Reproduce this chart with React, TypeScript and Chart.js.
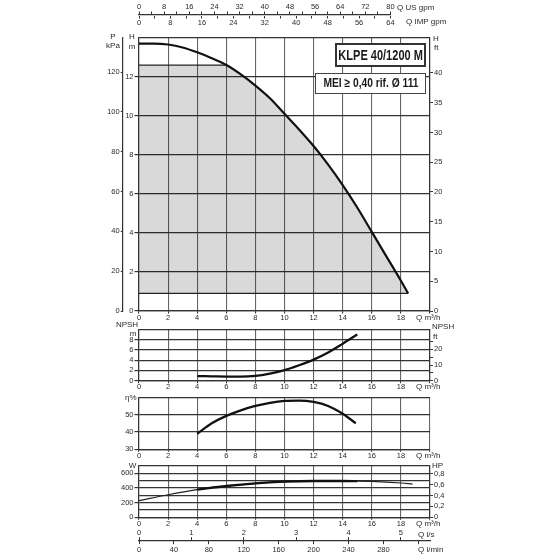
import React, { useEffect, useRef } from "react";
import { Chart, registerables } from "chart.js";
Chart.register(...registerables);

// ---------- data ----------
const Q_MAX = 20;
const Q_TICK_STEP = 2;
const KPA_PER_M = 9.80665;
const FT_PER_M = 3.28084;
const W_PER_HP = 745.7;

// Head curve H (m) vs Q (m³/h)
const Q_H = [0, 1, 2, 3, 4, 5, 6, 7, 8, 9, 10, 11, 12, 13, 14, 15, 16, 17, 18, 18.5];
const H_M = [13.7, 13.7, 13.65, 13.5, 13.25, 12.95, 12.6, 12.12, 11.55, 10.9, 10.1, 9.3, 8.45, 7.5, 6.45, 5.3, 4.05, 2.8, 1.55, 0.9];
const SHADE_TOP = 12.6;
const SHADE_BOTTOM = 0.9;

// Operating range (thick part of curves)
const OP_MIN = 4;
const OP_MAX = 15;

// NPSH (m)
const Q_NPSH = [4, 5, 6, 7, 8, 9, 10, 11, 12, 13, 14, 15];
const NPSH_M = [0.9, 0.85, 0.8, 0.8, 0.95, 1.4, 2.05, 3.0, 4.1, 5.5, 7.2, 9.0];

// Efficiency (%)
const Q_ETA = [4, 5, 6, 7, 8, 9, 10, 11, 12, 13, 14, 14.9];
const ETA = [39, 45, 49.3, 52.5, 55, 56.8, 57.9, 58.1, 57.3, 55, 50.5, 45];

// Power (W)
const Q_W = [0, 2, 4, 6, 8, 10, 12, 14, 15, 16, 18, 18.8];
const POWER_W = [226, 308, 377, 427, 464, 486, 495, 495, 494, 490, 468, 454];

// Secondary flow axes
const US_GPM_MAX = 80;
const US_GPM_LABEL_STEP = 8;
const IMP_GPM_MAX = 64;
const IMP_GPM_LABEL_STEP = 8;
const LS_MAX = Q_MAX / 3.6;
const LMIN_MAX = (Q_MAX * 1000) / 60;

// ---------- style ----------
const FONT_FAMILY = "'Liberation Sans Narrow', 'Arial Narrow', 'Liberation Sans', Arial, sans-serif";
const TICK_FONT = { family: FONT_FAMILY, size: 7.5, lineHeight: 1.1 };
const TEXT_COLOR = "#2a2a2a";
const GRID_V = "#666";
const GRID_H = "#333";
const AXIS_COLOR = "#333";
const CLEAR = "rgba(0,0,0,0)";

const pts = (xs: number[], ys: number[]) => xs.map((x, i) => ({ x, y: ys[i] }));
const within = (xs: number[], ys: number[], a: number, b: number) =>
  pts(xs, ys).filter((p) => p.x >= a && p.x <= b);

function shadeTopCrossing() {
  for (let i = 0; i < Q_H.length - 1; i++) {
    if (H_M[i] >= SHADE_TOP && H_M[i + 1] < SHADE_TOP) {
      const t = (H_M[i] - SHADE_TOP) / (H_M[i] - H_M[i + 1]);
      return Q_H[i] + t * (Q_H[i + 1] - Q_H[i]);
    }
  }
  return 0;
}

function shadePoints() {
  const qi = shadeTopCrossing();
  const out: { x: number; y: number }[] = [
    { x: 0, y: SHADE_TOP },
    { x: qi, y: SHADE_TOP },
  ];
  Q_H.forEach((q, i) => {
    if (H_M[i] < SHADE_TOP) out.push({ x: q, y: H_M[i] });
  });
  return out;
}

const lineDs = (data: any[], width: number, color = "#111", extra: any = {}) => ({
  data,
  borderColor: color,
  borderWidth: width,
  pointRadius: 0,
  fill: false,
  cubicInterpolationMode: "monotone",
  ...extra,
});

const qAxis = (h: number) => ({
  type: "linear",
  position: "bottom",
  min: 0,
  max: Q_MAX,
  ticks: {
    stepSize: Q_TICK_STEP,
    font: TICK_FONT,
    color: TEXT_COLOR,
    padding: 0,
    maxRotation: 0,
    autoSkip: false,
    callback: (v: number) => (v >= Q_MAX ? "" : String(v)),
  },
  grid: { color: GRID_V, lineWidth: 1.1, tickLength: 2.5, tickColor: AXIS_COLOR },
  border: { color: AXIS_COLOR, width: 1.2 },
  afterFit: (s: any) => {
    s.height = h;
  },
});

const leftAxis = (min: number, max: number, step: number, width: number, labelEvery: number) => ({
  type: "linear",
  position: "left",
  weight: 0,
  min,
  max,
  ticks: {
    stepSize: step,
    autoSkip: false,
    font: TICK_FONT,
    color: TEXT_COLOR,
    padding: 1,
    callback: (v: number) => (v >= max || (v - min) % labelEvery !== 0 ? "" : String(v)),
  },
  grid: {
    color: GRID_H,
    lineWidth: 1.2,
    tickLength: 4.5,
    tickColor: (c: any) =>
      c.tick && (c.tick.value >= max || (c.tick.value - min) % labelEvery !== 0) ? CLEAR : AXIS_COLOR,
  },
  border: { color: AXIS_COLOR, width: 1.2 },
  afterFit: (s: any) => {
    s.width = width;
  },
});

const rightAxis = (max: number, step: number, limit: number, labelFn: (v: number) => string) => ({
  type: "linear",
  position: "right",
  min: 0,
  max,
  ticks: {
    stepSize: step,
    includeBounds: false,
    autoSkip: false,
    font: TICK_FONT,
    color: TEXT_COLOR,
    padding: 1,
    callback: labelFn,
  },
  afterBuildTicks: (s: any) => {
    s.ticks = s.ticks.filter((t: any) => t.value <= limit + 1e-9);
  },
  grid: { drawOnChartArea: false, tickLength: 3, color: AXIS_COLOR },
  border: { color: AXIS_COLOR, width: 1.2 },
  afterFit: (s: any) => {
    s.width = 30;
  },
});

const baseOptions = (padding: any, scales: any) => ({
  responsive: false,
  animation: false,
  events: [],
  layout: { padding },
  plugins: { legend: { display: false }, tooltip: { enabled: false } },
  scales,
});

// ---------- chart configs ----------
const flowTicks = (step: number, labelStep: number) => ({
  stepSize: step,
  includeBounds: false,
  font: TICK_FONT,
  color: TEXT_COLOR,
  padding: 0,
  maxRotation: 0,
  autoSkip: false,
  callback: (v: number) => (v % labelStep === 0 ? String(v) : ""),
});

const topAxesConfig = () => ({
  type: "line",
  data: { datasets: [{ data: [], xAxisID: "us", yAxisID: "y" }] },
  options: baseOptions({ left: 139, right: 169.5, top: 0, bottom: 0 }, {
    us: {
      type: "linear",
      axis: "x",
      position: "top",
      min: 0,
      max: US_GPM_MAX,
      ticks: flowTicks(US_GPM_LABEL_STEP / 2, US_GPM_LABEL_STEP),
      grid: { drawOnChartArea: false, tickLength: 3, color: AXIS_COLOR },
      border: { color: AXIS_COLOR, width: 1.2 },
      afterFit: (s: any) => {
        s.height = 14.5;
      },
    },
    imp: {
      type: "linear",
      axis: "x",
      position: "bottom",
      min: 0,
      max: IMP_GPM_MAX,
      ticks: flowTicks(IMP_GPM_LABEL_STEP / 2, IMP_GPM_LABEL_STEP),
      grid: { drawOnChartArea: false, tickLength: 3, color: AXIS_COLOR },
      border: { display: false },
      afterFit: (s: any) => {
        s.height = 14.5;
      },
    },
    y: { display: false, min: 0, max: 1 },
  }),
});

const mainConfig = () => ({
  type: "line",
  data: {
    datasets: [
      lineDs(pts(Q_H, H_M), 2.2),
      lineDs(
        [
          { x: 0, y: SHADE_TOP },
          { x: shadeTopCrossing(), y: SHADE_TOP },
        ],
        1.2,
        "#222"
      ),
      lineDs(
        [
          { x: 0, y: SHADE_BOTTOM },
          { x: Q_H[Q_H.length - 1], y: SHADE_BOTTOM },
        ],
        1.3,
        "#222"
      ),
      lineDs(shadePoints(), 0, CLEAR, { fill: { value: SHADE_BOTTOM }, backgroundColor: "rgba(0,0,0,0.15)" }),
    ],
  },
  options: baseOptions({ left: 90, right: 100, top: 7.7, bottom: 0 }, {
    x: qAxis(19),
    y: leftAxis(0, 14, 2, 16.3, 2),
    p: {
      type: "linear",
      position: "left",
      weight: 1,
      min: 0,
      max: 14 * KPA_PER_M,
      ticks: { stepSize: 20, includeBounds: false, autoSkip: false, font: TICK_FONT, color: TEXT_COLOR, padding: 1 },
      grid: { drawOnChartArea: false, tickLength: 2, color: AXIS_COLOR },
      border: { color: AXIS_COLOR, width: 1.2 },
      afterFit: (s: any) => {
        s.width = 32.7;
      },
    },
    ft: rightAxis(14 * FT_PER_M, 5, 40, (v: number) => String(v)),
  }),
});

const npshConfig = () => ({
  type: "line",
  data: {
    datasets: [lineDs(pts(Q_NPSH, NPSH_M), 2.3)],
  },
  options: baseOptions({ left: 109, right: 100, top: 9.3, bottom: 0 }, {
    x: qAxis(11.3),
    y: leftAxis(0, 10, 2, 30, 2),
    ft: rightAxis(10 * FT_PER_M, 5, 25, (v: number) => (v % 10 === 0 ? String(v) : "")),
  }),
});

const etaConfig = () => ({
  type: "line",
  data: { datasets: [lineDs(pts(Q_ETA, ETA), 2.3)] },
  options: baseOptions({ left: 109, right: 130, top: 7.3, bottom: 0 }, {
    x: qAxis(12.7),
    y: leftAxis(30, 60, 10, 30, 10),
  }),
});

const powerConfig = () => ({
  type: "line",
  data: {
    datasets: [
      lineDs(within(Q_W, POWER_W, OP_MIN, OP_MAX), 2.3),
      lineDs(pts(Q_W, POWER_W), 1.2, "#222"),
    ],
  },
  options: baseOptions({ left: 109, right: 100, top: 8, bottom: 0 }, {
    x: qAxis(12.7),
    y: leftAxis(0, 700, 100, 30, 200),
    hp: rightAxis(700 / W_PER_HP, 0.2, 0.8, (v: number) =>
      v === 0 ? "0" : v.toFixed(1).replace(".", ",")
    ),
  }),
});

const bottomAxesConfig = () => ({
  type: "line",
  data: { datasets: [{ data: [], xAxisID: "ls", yAxisID: "y" }] },
  options: baseOptions({ left: 139, right: 130, top: 0, bottom: 0 }, {
    ls: {
      type: "linear",
      axis: "x",
      position: "top",
      min: 0,
      max: LS_MAX,
      ticks: flowTicks(1, 1),
      grid: { drawOnChartArea: false, tickLength: 3, color: AXIS_COLOR },
      border: { color: AXIS_COLOR, width: 1.2 },
      afterFit: (s: any) => {
        s.height = 15.2;
      },
    },
    lmin: {
      type: "linear",
      axis: "x",
      position: "bottom",
      min: 0,
      max: LMIN_MAX,
      ticks: {
        ...flowTicks(40, 40),
        padding: 1.5,
        callback: (v: number) => (v >= 300 ? "" : String(v)),
      },
      grid: { drawOnChartArea: false, tickLength: 3, color: AXIS_COLOR },
      border: { display: false },
      afterFit: (s: any) => {
        s.height = 18.8;
      },
    },
    y: { display: false, min: 0, max: 1 },
  }),
});

// ---------- components ----------
function ChartCanvas({ top, height, make }: { top: number; height: number; make: () => any }) {
  const ref = useRef<HTMLCanvasElement>(null);
  useEffect(() => {
    const chart = new Chart(ref.current as HTMLCanvasElement, make());
    return () => chart.destroy();
  }, []);
  return (
    <canvas
      ref={ref}
      width={560}
      height={height}
      style={{ position: "absolute", left: 0, top, width: 560, height }}
    />
  );
}

function Txt({
  x,
  y,
  children,
  align = "left",
  size = 8,
}: {
  x: number;
  y: number;
  children: any;
  align?: "left" | "center" | "right";
  size?: number;
}) {
  const tx = align === "left" ? "0" : align === "center" ? "-50%" : "-100%";
  return (
    <div
      style={{
        position: "absolute",
        left: x,
        top: y,
        transform: `translate(${tx},-50%)`,
        fontFamily: FONT_FAMILY,
        fontSize: size,
        lineHeight: 1,
        whiteSpace: "nowrap",
        color: TEXT_COLOR,
      }}
    >
      {children}
    </div>
  );
}

function Box({
  left,
  top,
  width,
  height,
  border,
  size,
  squeeze,
  children,
}: {
  left: number;
  top: number;
  width: number;
  height: number;
  border: string;
  size: number;
  squeeze: number;
  children: any;
}) {
  return (
    <div
      style={{
        position: "absolute",
        left,
        top,
        width,
        height,
        boxSizing: "border-box",
        border,
        background: "#fff",
        display: "flex",
        alignItems: "center",
        justifyContent: "center",
        overflow: "visible",
      }}
    >
      <span
        style={{
          display: "inline-block",
          transform: `scaleX(${squeeze})`,
          fontFamily: "'Liberation Sans', Arial, sans-serif",
          fontSize: size,
          fontWeight: 700,
          lineHeight: 1,
          color: "#1a1a1a",
          whiteSpace: "nowrap",
        }}
      >
        {children}
      </span>
    </div>
  );
}

export default function App() {
  return (
    <div
      style={{
        position: "absolute",
        left: 0,
        top: 0,
        width: 560,
        height: 560,
        background: "#fff",
        overflow: "hidden",
      }}
    >
      <ChartCanvas top={0} height={30} make={topAxesConfig} />
      <ChartCanvas top={30} height={300} make={mainConfig} />
      <ChartCanvas top={320} height={72} make={npshConfig} />
      <ChartCanvas top={390} height={72} make={etaConfig} />
      <ChartCanvas top={458} height={72} make={powerConfig} />
      <ChartCanvas top={525} height={35} make={bottomAxesConfig} />

      <Txt x={397} y={7.5}>Q US gpm</Txt>
      <Txt x={406} y={22}>Q IMP gpm</Txt>

      <Txt x={113} y={37} align="center">P</Txt>
      <Txt x={113} y={46} align="center">kPa</Txt>
      <Txt x={132} y={37} align="center">H</Txt>
      <Txt x={132} y={46.5} align="center">m</Txt>
      <Txt x={433} y={39}>H</Txt>
      <Txt x={434} y={48}>ft</Txt>
      <Txt x={416} y={317.5}>Q m³/h</Txt>

      <Txt x={127} y={325} align="center">NPSH</Txt>
      <Txt x={133} y={334} align="center">m</Txt>
      <Txt x={432} y={327}>NPSH</Txt>
      <Txt x={433} y={336.5}>ft</Txt>
      <Txt x={416} y={386.5}>Q m³/h</Txt>

      <Txt x={136.5} y={397.5} align="right">η%</Txt>
      <Txt x={416} y={456}>Q m³/h</Txt>

      <Txt x={132.5} y={466} align="center">W</Txt>
      <Txt x={432} y={466}>HP</Txt>
      <Txt x={416} y={523.5}>Q m³/h</Txt>

      <Txt x={418} y={534.5}>Q l/s</Txt>
      <Txt x={418} y={550}>Q l/min</Txt>

      <Box left={335} top={43} width={91} height={24} border="2px solid #333" size={14.5} squeeze={0.76}>
        KLPE 40/1200 M
      </Box>
      <Box left={315} top={73} width={111} height={20.5} border="1px solid #444" size={12.5} squeeze={0.82}>
        MEI ≥ 0,40 rif. Ø 111
      </Box>
    </div>
  );
}
